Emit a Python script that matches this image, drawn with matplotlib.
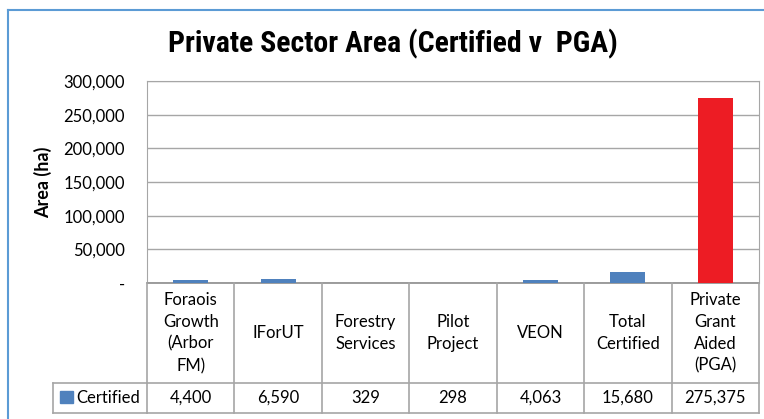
import matplotlib
matplotlib.use("Agg")
import matplotlib.pyplot as plt
from matplotlib.lines import Line2D
from matplotlib.patches import Rectangle
from matplotlib.transforms import blended_transform_factory
from matplotlib.ticker import FuncFormatter

# data
categories = ["Foraois\nGrowth\n(Arbor\nFM)", "IForUT", "Forestry\nServices",
              "Pilot\nProject", "VEON", "Total\nCertified", "Private\nGrant\nAided\n(PGA)"]
values = [4400, 6590, 329, 298, 4063, 15680, 275375]
value_labels = ["4,400", "6,590", "329", "298", "4,063", "15,680", "275,375"]
bar_colors = ["#4f81bd"] * 6 + ["#ed1c24"]
series_name = "Certified"
y_ticks = [0, 50000, 100000, 150000, 200000, 250000, 300000]

W, H = 764, 419
plt.rcParams['font.family'] = ['Lato', 'DejaVu Sans']
plt.rcParams['ytick.major.pad'] = 16
plt.rcParams['ytick.major.size'] = 0

fig = plt.figure(figsize=(W / 100, H / 100), dpi=100)


def fy(py):
    return 1 - py / H


def fx(px):
    return px / W


# chart frame (left and top edges visible)
grid_col = "#a6a6a6"
fig.add_artist(Line2D([fx(8), fx(8)], [fy(10), 0], color="#5b9bd5", lw=1.5))
fig.add_artist(Line2D([fx(8), 1], [fy(10), fy(10)], color="#5b9bd5", lw=1.5))

ax = fig.add_axes([fx(147), fy(283), fx(759) - fx(147), fy(81) - fy(283)])
x = list(range(len(values)))
ax.bar(x, values, width=0.4, color=bar_colors, zorder=3)
ax.set_xlim(-0.5, len(values) - 0.5)
ax.set_ylim(0, 300000)
ax.set_yticks(y_ticks)
ax.yaxis.set_major_formatter(FuncFormatter(lambda v, p: "-" if v == 0 else f"{int(v):,}"))
ax.tick_params(axis="y", labelsize=12, colors="#000000")
ax.set_xticks([])
ax.grid(axis="y", color=grid_col, lw=1, zorder=0)
for s in ["top", "right", "left"]:
    ax.spines[s].set_color(grid_col)
ax.spines["bottom"].set_color("#8c8c8c")
ax.spines["bottom"].set_linewidth(1.2)

fig.text(fx(43), fy(182), "Area (ha)", rotation=90, ha="center", va="center",
         fontsize=13, fontweight="bold")
fig.text(fx(393), fy(44), "Private Sector Area (Certified v  PGA)", ha="center", va="center",
         fontsize=21.5, fontweight="bold",
         family=["Roboto Condensed", "Liberation Sans Narrow", "Liberation Sans"])

# data table below the axis
tr = blended_transform_factory(ax.transData, fig.transFigure)
n = len(values)
y_top, y_mid, y_bot = fy(283), fy(383), fy(413)
line_kw = dict(color=grid_col, lw=1.2, transform=tr, clip_on=False)
for i in range(n + 1):
    fig.add_artist(Line2D([i - 0.5, i - 0.5], [y_top, y_bot], **line_kw))
fig.add_artist(Line2D([-0.5, n - 0.5], [y_bot, y_bot], **line_kw))
fig.add_artist(Line2D([-0.5, n - 0.5], [y_mid, y_mid], **line_kw))
fig.add_artist(Line2D([fx(53), fx(147)], [y_mid, y_mid], color=grid_col, lw=1.2))
fig.add_artist(Line2D([fx(53), fx(147)], [y_bot, y_bot], color=grid_col, lw=1.2))
fig.add_artist(Line2D([fx(53), fx(53)], [y_mid, y_bot], color=grid_col, lw=1.2))

for i, (cat, lab) in enumerate(zip(categories, value_labels)):
    fig.text(i, (y_top + y_mid) / 2, cat, transform=tr, ha="center", va="center",
             fontsize=12, linespacing=1.45)
    fig.text(i, (y_mid + y_bot) / 2, lab, transform=tr, ha="center", va="center", fontsize=12)

fig.add_artist(Rectangle((fx(60), fy(403)), fx(73) - fx(60), fy(391) - fy(403),
                         color="#4f81bd"))
fig.text(fx(76), (y_mid + y_bot) / 2, series_name, ha="left", va="center", fontsize=12)

fig.savefig("out.png", dpi=100)
